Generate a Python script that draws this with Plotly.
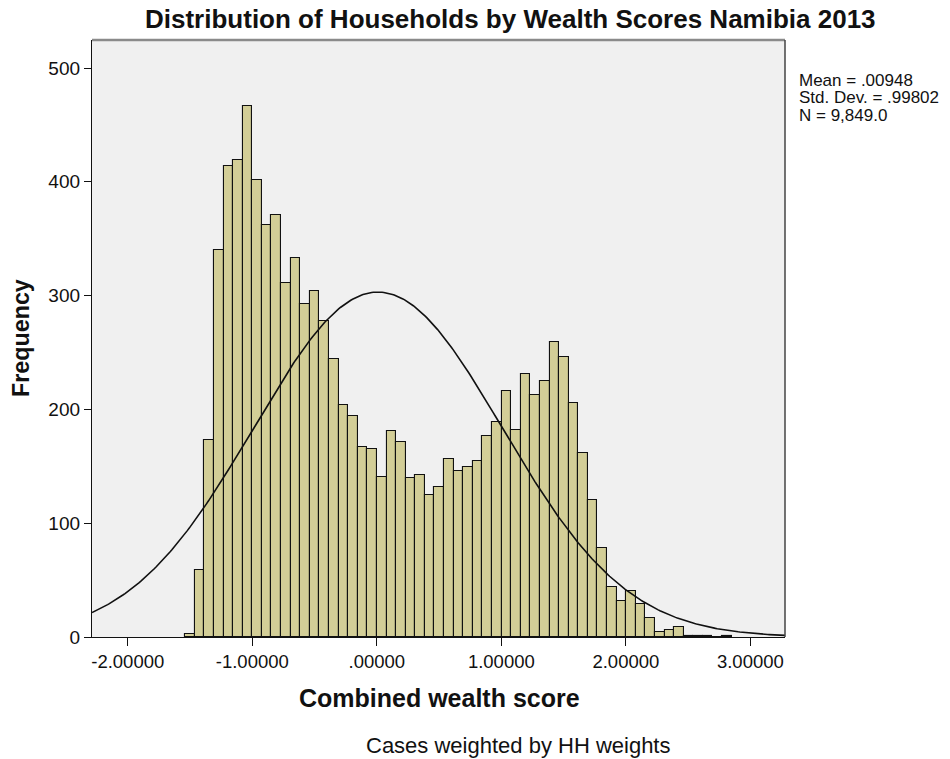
import numpy as np
import plotly.graph_objects as go

# ---- data ----
counts = [3, 59, 173, 340, 414, 419, 467, 402, 362, 371,
          311, 333, 293, 304, 278, 244, 204, 194, 167, 165,
          141, 181, 171, 140, 142, 125, 132, 156, 146, 149,
          155, 177, 189, 216, 182, 231, 213, 225, 259, 246,
          206, 162, 120, 78, 44, 32, 40, 29, 17, 4,
          6, 9, 1, 1, 1, 0, 1]
bin_start = -1.5387
bin_width = 0.07699
mean_val = 0.00948
sd_val = 0.99802
n_val = 9849.0
x_tick_vals = [-2, -1, 0, 1, 2, 3]
x_tick_text = ["-2.00000", "-1.00000", ".00000", "1.00000", "2.00000", "3.00000"]
y_tick_vals = [0, 100, 200, 300, 400, 500]
stats_lines = ["Mean = .00948", "Std. Dev. = .99802", "N = 9,849.0"]

X_RANGE = [-2.287, 3.278]
Y_RANGE = [0, 524.6]

FONT = "Liberation Sans, Arial, sans-serif"

# bar geometry from bins
centers = [bin_start + bin_width * (i + 0.5) for i in range(len(counts))]

# fitted normal curve
xs = np.linspace(X_RANGE[0], X_RANGE[1], 400)
ys = n_val * bin_width / (sd_val * np.sqrt(2 * np.pi)) * np.exp(-0.5 * ((xs - mean_val) / sd_val) ** 2)

fig = go.Figure()
fig.add_trace(go.Bar(
    x=centers, y=counts, width=bin_width,
    marker=dict(color="#D3CE97", line=dict(color="#111111", width=1.1)),
    hoverinfo="x+y", showlegend=False,
))
fig.add_trace(go.Scatter(
    x=xs, y=ys, mode="lines",
    line=dict(color="#111111", width=1.6),
    hoverinfo="skip", showlegend=False,
))

PL, PR, PT, PB = 91.5, 784.6, 39.5, 637.5  # target plot box in screen px
PW, PH = PR - PL, PB - PT
W, H = 950, 759
L, T = PL, PT
R, B = W - L - PW, H - T - PH

fig.update_layout(
    width=W, height=H,
    margin=dict(l=L, r=R, t=T, b=B, pad=0),
    paper_bgcolor="white", plot_bgcolor="#F0F0F0",
    font=dict(family=FONT, color="#111111"),
    bargap=0,
    xaxis=dict(range=X_RANGE, tickvals=x_tick_vals, ticktext=x_tick_text,
               ticks="outside", ticklen=8, tickwidth=1.2, tickcolor="#111",
               showgrid=False, zeroline=False, showline=True, linecolor="#111", linewidth=1.3,
               tickfont=dict(size=18.5, family=FONT, color="#111")),
    yaxis=dict(range=Y_RANGE, tickvals=y_tick_vals,
               ticks="outside", ticklen=7, tickwidth=1.2, tickcolor="#111",
               showgrid=False, zeroline=False, showline=True, linecolor="#111", linewidth=1.3,
               tickfont=dict(size=19, family=FONT, color="#111")),
    shapes=[
        dict(type="line", xref="paper", yref="paper", x0=0, x1=1, y0=1, y1=1,
             line=dict(color="#8a8a8a", width=2.5)),
        dict(type="line", xref="paper", yref="paper", x0=1, x1=1, y0=0, y1=1,
             line=dict(color="#444444", width=1.5)),
    ],
)

ann = []
# title
ann.append(dict(text="<b>Distribution of Households by Wealth Scores Namibia 2013</b>",
                xref="paper", yref="paper", x=(510 - PL) / PW, y=1, yshift=(PT - 18.5),
                xanchor="center", yanchor="middle", showarrow=False,
                font=dict(size=26, family=FONT, color="#111")))
# x title
ann.append(dict(text="<b>Combined wealth score</b>", xref="paper", yref="paper",
                x=(439 - PL) / PW, y=0, yshift=-(698 - PB),
                xanchor="center", yanchor="middle", showarrow=False,
                font=dict(size=25, family=FONT, color="#111")))
# y title
ann.append(dict(text="<b>Frequency</b>", xref="paper", yref="paper",
                x=0, xshift=-(PL - 20), y=(PB - 338.5) / PH,
                xanchor="center", yanchor="middle", textangle=-90, showarrow=False,
                font=dict(size=23.3, family=FONT, color="#111")))
# footnote
ann.append(dict(text="Cases weighted by HH weights", xref="paper", yref="paper",
                x=(518 - PL) / PW, y=0, yshift=-(746 - PB),
                xanchor="center", yanchor="middle", showarrow=False,
                font=dict(size=22, family=FONT, color="#111")))
# stats box
for line, py in zip(stats_lines, [79.5, 97.3, 115.0]):
    ann.append(dict(text=line, xref="paper", yref="paper",
                    x=1, xshift=796.7 - PR, y=1, yshift=-(py - PT),
                    xanchor="left", yanchor="middle", showarrow=False,
                    font=dict(size=17, family=FONT, color="#111")))
fig.update_layout(annotations=ann)

fig.write_html("out.html",
               config={"displayModeBar": False},
               post_script="document.body.style.margin='0';document.body.style.overflow='hidden';")
